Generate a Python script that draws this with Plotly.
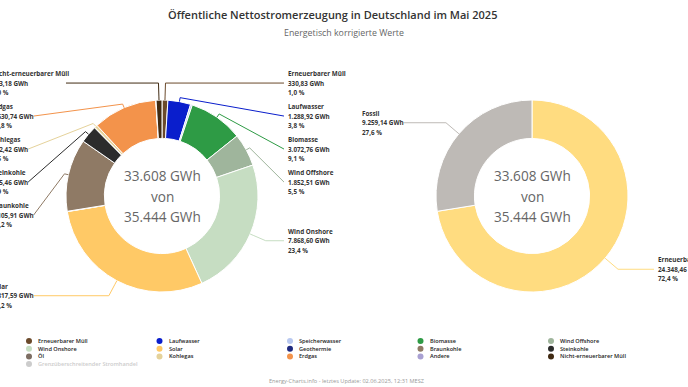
import math
import plotly.graph_objects as go

# ---------------- data ----------------
categories = ["Erneuerbarer Müll", "Laufwasser", "Speicherwasser", "Biomasse", "Wind Offshore",
              "Wind Onshore", "Solar", "Geothermie", "Braunkohle", "Steinkohle", "Öl", "Kohlegas",
              "Erdgas", "Andere", "Nicht-erneuerbarer Müll"]
values_gwh = [330.83, 1288.92, 100.50, 3072.76, 1852.51, 7868.60, 9817.59, 16.75,
              4105.91, 985.46, 25.00, 162.42, 3630.74, 16.43, 333.18]
groups = ["Erneuerbar"] * 8 + ["Fossil"] * 7
colors = ["#6B4A2B", "#0A1ECC", "#B8C8F0", "#2E9B45", "#9FB59C", "#C6DDC2", "#FFC966", "#1F2A80",
          "#8F7A65", "#2C2C2C", "#7D6E63", "#E5D29A", "#F3934B", "#A9A0D2", "#402A12"]
trade_label = "Grenzüberschreitender Stromhandel"
trade_gwh = 1836.40
trade_color = "#CCCCCC"
group_names = ["Erneuerbar", "Fossil"]
group_colors = ["#FFDC80", "#BEBAB6"]

title_text = "Öffentliche Nettostromerzeugung in Deutschland im Mai 2025"
subtitle_text = "Energetisch korrigierte Werte"
footer_text = "Energy-Charts.info - letztes Update: 02.06.2025, 12:31 MESZ"
min_label_gwh = 150

# ---------------- layout constants (pixels) ----------------
W, H = 688, 387
CY, R, RHO, LBL_H = 196, 96, 113, 33
CX_LEFT, CX_RIGHT = 162, 532
LEFT_OFF, RIGHT_OFF = -172, 124
FONT = "Open Sans"
LBL_SIZE = 6.3


def px(x):
    return x / W


def py(y):
    return 1 - y / H


def de_num(v, dec=2):
    s = f"{v:,.{dec}f}"
    return s.replace(",", "X").replace(".", ",").replace("X", ".")


BOLD_W = {".": 0.294, ",": 0.268, " ": 0.26, "%": 0.9, "G": 0.736, "W": 0.98, "h": 0.634, "i": 0.29,
          "l": 0.297, "t": 0.42, "r": 0.408, "f": 0.38, "m": 0.96, "s": 0.5, "c": 0.51, "k": 0.6,
          "-": 0.32, "M": 0.926, "N": 0.76, "S": 0.6, "B": 0.68, "K": 0.66, "E": 0.562}


def text_w(s, size):
    w = 0
    for ch in s:
        if ch.isdigit():
            w += 0.572
        elif ch in BOLD_W:
            w += BOLD_W[ch]
        elif ch.isupper():
            w += 0.68
        else:
            w += 0.6
    return w * size


total = sum(values_gwh)
grand_total = total + trade_gwh
group_vals = [sum(v for v, g in zip(values_gwh, groups) if g == gn) for gn in group_names]

fig = go.Figure()
annotations = []
shapes = []


def add_donut(cx, labels, vals, cols, labelled):
    fig.add_trace(go.Pie(
        labels=labels, values=vals, hole=0.6, sort=False, direction="clockwise", rotation=0,
        textinfo="none", showlegend=False,
        marker=dict(colors=cols, line=dict(color="white", width=1)),
        domain=dict(x=[px(cx - R), px(cx + R)], y=[py(CY + R), py(CY - R)]),
    ))
    # center text
    for dy, t in [(-21, f"{de_num(total, 0)} GWh"), (0, "von"), (21, f"{de_num(grand_total, 0)} GWh")]:
        annotations.append(dict(x=px(cx), y=py(CY + dy), xref="paper", yref="paper", text=t,
                                showarrow=False, xanchor="center", yanchor="middle",
                                font=dict(family=FONT, size=13.6, color="#666666")))
    tot = sum(vals)
    cum = 0
    items = []
    for name, v, c in zip(labels, vals, cols):
        th = (cum + v / 2) / tot * 360
        cum += v
        if not labelled(v):
            continue
        items.append(dict(name=name, v=v, c=c, th=th, side=1 if th <= 180 else -1,
                          ny=CY - RHO * math.cos(math.radians(th))))
    for side in (1, -1):
        sel = sorted([it for it in items if it["side"] == side], key=lambda d: d["ny"])
        prev = None
        for it in sel:
            y = max(it["ny"], CY - RHO)
            if prev is not None:
                y = max(y, prev + LBL_H)
            it["y"] = y
            prev = y
    for it in items:
        th = math.radians(it["th"])
        y = it["y"]
        lines = [it["name"], f"{de_num(it['v'])} GWh", f"{de_num(it['v'] / total * 100, 1)} %"]
        if it["side"] == 1:
            xl = cx + RIGHT_OFF
            sx = xl - 2
        else:
            xl = cx + LEFT_OFF
            sx = xl + max(text_w(s, LBL_SIZE) for s in lines) + 2
        for k, s in enumerate(lines):
            annotations.append(dict(x=px(xl), y=py(y + (k - 1) * 9.3), xref="paper", yref="paper",
                                    text=s, showarrow=False, xanchor="left", yanchor="middle",
                                    font=dict(family=FONT, size=LBL_SIZE, color="#333333", weight=700)))
        bx, by = cx + (R + 4) * math.sin(th), CY - (R + 4) * math.cos(th)
        tx, ty = cx + R * math.sin(th), CY - R * math.cos(th)
        crook = cx + (CY - y) * math.tan(th) if abs(math.cos(th)) > 1e-6 else None
        pts = [(sx, y)]
        if crook is not None:
            if it["side"] == 1 and bx <= crook <= sx:
                pts.append((crook, y))
            if it["side"] == -1 and sx <= crook <= bx:
                pts.append((crook, y))
        pts += [(bx, by), (tx, ty)]
        path = "M " + " L ".join(f"{px(a):.5f},{py(b):.5f}" for a, b in pts)
        shapes.append(dict(type="path", xref="paper", yref="paper", path=path,
                           line=dict(color=it["c"], width=1)))


add_donut(CX_LEFT, categories, values_gwh, colors, lambda v: v >= min_label_gwh)
add_donut(CX_RIGHT, group_names, group_vals, group_colors, lambda v: True)

# manual legend (5 columns)
leg_names = categories + [trade_label]
leg_cols = colors + [trade_color]
for i, (n, c) in enumerate(zip(leg_names, leg_cols)):
    row, col = divmod(i, 5)
    dx = 29 + col * 130.5
    dy = 341 + row * 7.7
    shapes.append(dict(type="circle", xref="paper", yref="paper",
                       x0=px(dx - 3), x1=px(dx + 3), y0=py(dy + 3), y1=py(dy - 3),
                       fillcolor=c, line=dict(width=0)))
    annotations.append(dict(x=px(dx + 7), y=py(dy), xref="paper", yref="paper", text=n,
                            showarrow=False, xanchor="left", yanchor="middle",
                            font=dict(family=FONT, size=5.6, weight=600,
                                      color="#CCCCCC" if n == trade_label else "#222222")))

annotations.append(dict(x=px(332), y=py(15), xref="paper", yref="paper", text=title_text,
                        showarrow=False, xanchor="center", yanchor="middle",
                        font=dict(family=FONT, size=11, weight=600, color="#333333")))
annotations.append(dict(x=0.5, y=py(33), xref="paper", yref="paper", text=subtitle_text,
                        showarrow=False, xanchor="center", yanchor="middle",
                        font=dict(family=FONT, size=8.8, color="#666666")))
annotations.append(dict(x=px(346), y=py(381), xref="paper", yref="paper", text=footer_text,
                        showarrow=False, xanchor="center", yanchor="middle",
                        font=dict(family=FONT, size=5.6, color="#999999")))

fig.update_layout(
    width=W, height=H, margin=dict(l=0, r=0, t=0, b=0),
    paper_bgcolor="white", plot_bgcolor="white",
    annotations=annotations, shapes=shapes,
)
fig.write_html("out.html", config={"displayModeBar": False},
               post_script="document.body.style.margin='0';document.body.style.overflow='hidden';")
